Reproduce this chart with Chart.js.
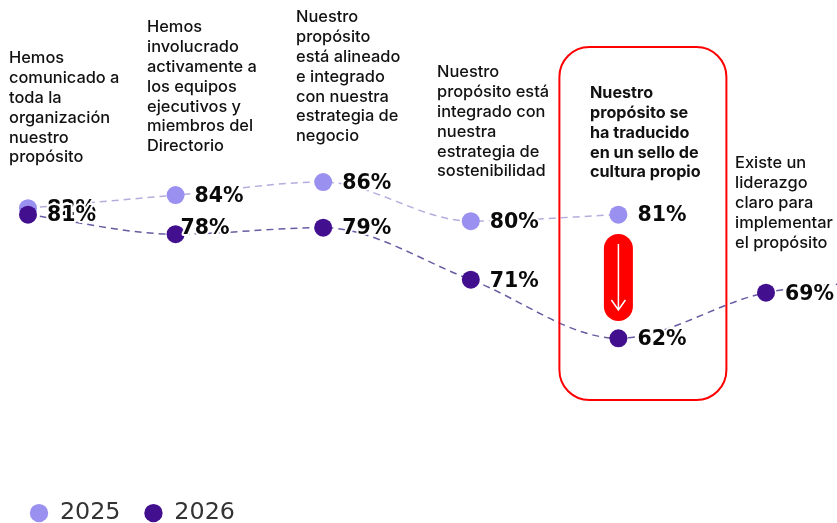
<!DOCTYPE html>
<html>
<head>
<meta charset="utf-8">
<style>
  html, body { margin: 0; padding: 0; background: #fff; overflow: hidden; }
  canvas { display: block; }
</style>
<script src="https://cdn.jsdelivr.net/npm/chart.js@4"></script>
</head>
<body>
<canvas id="purposeChart" width="837" height="523"></canvas>
<script>
const categories = [
  ["Hemos", "comunicado a", "toda la", "organización", "nuestro", "propósito"],
  ["Hemos", "involucrado", "activamente a", "los equipos", "ejecutivos y", "miembros del", "Directorio"],
  ["Nuestro", "propósito", "está alineado", "e integrado", "con nuestra", "estrategia de", "negocio"],
  ["Nuestro", "propósito está", "integrado con", "nuestra", "estrategia de", "sostenibilidad"],
  ["Nuestro", "propósito se", "ha traducido", "en un sello de", "cultura propio"],
  ["Existe un", "liderazgo", "claro para", "implementar", "el propósito"],
];
const years = ["2025", "2026"];
const values2025 = [82, 84, 86, 80, 81];
const values2026 = [81, 78, 79, 71, 62, 69, 71];

// where each question text starts: left edge and centre of its first line
const textLeft = [9, 147, 296, 437, 590, 735];
const textTop = [58, 27, 17, 72, 93, 163];
const highlighted = 4;
// value label nudges, dataset-point -> [dx, dy]
const labelNudge = { "1-1": [-14, -7] };

const light = "#9a90f0";
const dark = "#42108f";

function toPoints(list) {
  return list.map((v, i) => ({ x: i, y: v }));
}

const questionText = {
  id: "questionText",
  afterDatasetsDraw(chart) {
    const ctx = chart.ctx;
    ctx.save();
    ctx.fillStyle = "#111";
    ctx.textAlign = "left";
    ctx.textBaseline = "middle";
    categories.forEach((lines, i) => {
      ctx.font = i === highlighted
        ? "bold 16.2px Inter, 'Noto Sans', sans-serif"
        : "500 16.4px Inter, 'Noto Sans', sans-serif";
      lines.forEach((line, n) => ctx.fillText(line, textLeft[i], textTop[i] + n * 19.9));
    });
    ctx.restore();
  },
};

const valueLabels = {
  id: "valueLabels",
  afterDatasetsDraw(chart) {
    const ctx = chart.ctx;
    ctx.save();
    ctx.font = "bold 20.5px 'DejaVu Sans', sans-serif";
    ctx.textAlign = "left";
    ctx.textBaseline = "middle";
    ctx.lineJoin = "round";
    chart.data.datasets.forEach((ds, d) => {
      chart.getDatasetMeta(d).data.forEach((pt, i) => {
        const nudge = labelNudge[d + "-" + i] || [0, 0];
        const text = ds.data[i].y + "%";
        const x = pt.x + 19 + nudge[0];
        const y = pt.y + 1.5 + nudge[1];
        ctx.strokeStyle = "#fff";
        ctx.lineWidth = 4;
        ctx.strokeText(text, x, y);
        ctx.fillStyle = "#0a0a0a";
        ctx.fillText(text, x, y);
      });
    });
    ctx.restore();
  },
};

// red frame round the highlighted question, with the drop arrow
const dropCallout = {
  id: "dropCallout",
  afterDatasetsDraw(chart) {
    const ctx = chart.ctx;
    const cx = chart.scales.x.getPixelForValue(highlighted);
    ctx.save();
    ctx.strokeStyle = "#f00";
    ctx.lineWidth = 2;
    ctx.beginPath();
    ctx.roundRect(cx - 59, 47, 167, 353, 30);
    ctx.stroke();

    ctx.fillStyle = "#f00";
    ctx.beginPath();
    ctx.roundRect(cx - 14.5, 234, 29, 87, 14.5);
    ctx.fill();

    ctx.strokeStyle = "#fff";
    ctx.lineWidth = 1.5;
    ctx.beginPath();
    ctx.moveTo(cx, 244);
    ctx.lineTo(cx, 310);
    ctx.moveTo(cx - 7, 300);
    ctx.lineTo(cx, 310);
    ctx.lineTo(cx + 7, 300);
    ctx.stroke();
    ctx.restore();
  },
};

// the legend keeps its wide item gap but sits lower, near the page edge
const legendDrop = {
  id: "legendDrop",
  afterLayout(chart) {
    chart.legend.top += 12;
  },
};

new Chart(document.getElementById("purposeChart"), {
  type: "line",
  data: {
    datasets: [
      {
        label: years[0],
        data: toPoints(values2025),
        borderColor: "#b4addd",
        backgroundColor: light,
        pointBackgroundColor: light,
        pointBorderColor: light,
        order: 1,
      },
      {
        label: years[1],
        data: toPoints(values2026),
        borderColor: "#6b5ba3",
        backgroundColor: dark,
        pointBackgroundColor: dark,
        pointBorderColor: dark,
        order: 0,
      },
    ],
  },
  options: {
    responsive: false,
    animation: false,
    layout: { autoPadding: false, padding: { left: 6, right: 0, top: 0, bottom: 0 } },
    elements: {
      line: { borderWidth: 1.5, borderDash: [7, 5], cubicInterpolationMode: "monotone" },
      point: { radius: 9, borderWidth: 0 },
    },
    scales: {
      x: { type: "linear", min: -0.149, max: 5.481, display: false },
      y: { min: 42.5, max: 113.98, display: false },
    },
    plugins: {
      tooltip: { enabled: false },
      legend: {
        position: "bottom",
        align: "start",
        labels: {
          usePointStyle: true,
          pointStyle: "circle",
          boxWidth: 18,
          boxHeight: 13,
          padding: 24,
          color: "#333",
          font: { family: "'DejaVu Sans', sans-serif", size: 23.8 },
          sort: (a, b) => a.datasetIndex - b.datasetIndex,
        },
      },
    },
  },
  plugins: [legendDrop, dropCallout, questionText, valueLabels],
});
</script>
</body>
</html>
